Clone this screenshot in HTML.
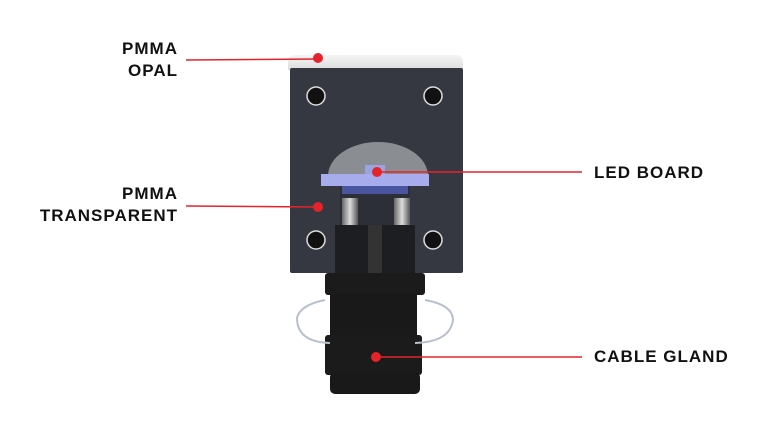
<!DOCTYPE html>
<html><head><meta charset="utf-8"><style>
body{margin:0;width:768px;height:432px;background:#fff;overflow:hidden;position:relative;font-family:"Liberation Sans",sans-serif}
.t{position:absolute;font-weight:bold;font-size:17px;line-height:22px;color:#111;letter-spacing:1px}
.r{text-align:right;right:590px}
</style></head><body>
<svg width="768" height="432" style="position:absolute;left:0;top:0">
<defs>
<linearGradient id="cap" x1="0" y1="0" x2="0" y2="1"><stop offset="0" stop-color="#f4f4f4"/><stop offset="1" stop-color="#dcdcdc"/></linearGradient>
<linearGradient id="pin" x1="0" y1="0" x2="1" y2="0"><stop offset="0" stop-color="#666"/><stop offset=".5" stop-color="#ddd"/><stop offset="1" stop-color="#555"/></linearGradient>
</defs>
<path d="M296,55 H456 Q463,55 463,63 V70 H288 V63 Q288,55 296,55Z" fill="url(#cap)"/>
<rect x="290" y="68" width="173" height="205" rx="2" fill="#353840"/>
<g fill="#111" stroke="#ddd" stroke-width="1.5">
<circle cx="316" cy="96" r="9"/><circle cx="433" cy="96" r="9"/>
<circle cx="316" cy="240" r="9"/><circle cx="433" cy="240" r="9"/>
</g>
<path d="M328,176 A47,32 0 0 1 428,176Z" fill="#8a8d92"/>
<rect x="365" y="165" width="20" height="10" fill="#9aa4e0"/>
<rect x="321" y="174" width="108" height="12" fill="#a7acec"/>
<rect x="340" y="186" width="70" height="40" fill="#2c2f38"/>
<rect x="342" y="186" width="66" height="8" fill="#4a55a0"/>
<rect x="342" y="198" width="16" height="28" fill="url(#pin)"/>
<rect x="394" y="198" width="16" height="28" fill="url(#pin)"/>
<rect x="335" y="225" width="80" height="48" fill="#1d1e22"/>
<rect x="368" y="225" width="14" height="48" fill="#333"/>
<rect x="325" y="273" width="100" height="22" rx="3" fill="#1c1b1c"/>
<rect x="330" y="294" width="87" height="42" fill="#1a191a"/>
<rect x="325" y="335" width="97" height="40" rx="3" fill="#1c1b1c"/>
<rect x="330" y="372" width="90" height="22" rx="5" fill="#1a191a"/>
<path d="M325,300 Q300,305 297,318 Q297,342 330,343 M425,300 Q453,305 453,320 Q450,342 415,343" fill="none" stroke="#b8c0cc" stroke-width="2"/>
<g stroke="#e5232a" stroke-width="1.5">
<line x1="186" y1="60" x2="318" y2="59"/>
<line x1="186" y1="206" x2="318" y2="207"/>
<line x1="377" y1="172" x2="582" y2="172"/>
<line x1="376" y1="357" x2="582" y2="357"/>
</g>
<g fill="#e5232a">
<circle cx="318" cy="58" r="5"/><circle cx="318" cy="207" r="5"/>
<circle cx="377" cy="172" r="5"/><circle cx="376" cy="357" r="5"/>
</g>
</svg>
<div class="t r" style="top:38px">PMMA<br>OPAL</div>
<div class="t r" style="top:183px">PMMA<br>TRANSPARENT</div>
<div class="t" style="left:594px;top:162px">LED BOARD</div>
<div class="t" style="left:594px;top:346px">CABLE GLAND</div>
</body></html>
